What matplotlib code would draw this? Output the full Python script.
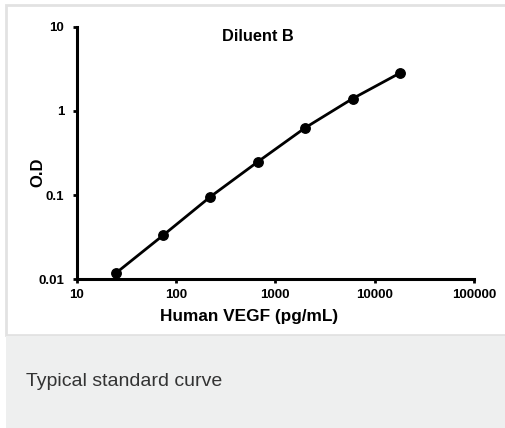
import matplotlib.pyplot as plt
import matplotlib.patches as patches
from matplotlib.ticker import FixedLocator, FixedFormatter, NullLocator

# data
conc = [24.7, 74.1, 222, 667, 2000, 6000, 18000]
od = [0.0118, 0.0333, 0.0957, 0.249, 0.631, 1.40, 2.82]
xticks = [10, 100, 1000, 10000, 100000]
xlabels = ['10', '100', '1000', '10000', '100000']
yticks = [0.01, 0.1, 1, 10]
ylabels = ['0.01', '0.1', '1', '10']

plt.rcParams['font.family'] = ['Liberation Sans', 'DejaVu Sans']

W, H = 506, 428
fig = plt.figure(figsize=(W / 100, H / 100), dpi=100)
fig.patch.set_facecolor('white')

# white panel with light border, grey caption band
panel = patches.Rectangle((6 / W, 1 - 335 / H), 1.2, (335 - 5) / H,
                          transform=fig.transFigure, facecolor='white',
                          edgecolor='#e2e2e2', linewidth=2, zorder=-5)
band = patches.Rectangle((6 / W, 0), 1.2, 1 - 336 / H,
                         transform=fig.transFigure, facecolor='#eeefef',
                         edgecolor='none', zorder=-5)
fig.patches.extend([panel, band])
fig.text(26 / W, 1 - 382 / H, 'Typical standard curve', fontsize=14,
         color='#333333', ha='left', va='center')

ax = fig.add_axes([76.7 / W, 1 - 279.3 / H, (474 - 76.7) / W, (279.3 - 26.7) / H])
ax.set_facecolor('none')
ax.set_xscale('log')
ax.set_yscale('log')
ax.set_xlim(10, 100000)
ax.set_ylim(0.01, 10)

ax.plot(conc, od, color='black', linewidth=2, marker='o', markersize=6.8,
        clip_on=False, zorder=3)

ax.xaxis.set_major_locator(FixedLocator(xticks))
ax.xaxis.set_major_formatter(FixedFormatter(xlabels))
ax.yaxis.set_major_locator(FixedLocator(yticks))
ax.yaxis.set_major_formatter(FixedFormatter(ylabels))
ax.xaxis.set_minor_locator(NullLocator())
ax.yaxis.set_minor_locator(NullLocator())

for s in ['top', 'right']:
    ax.spines[s].set_visible(False)
for s in ['left', 'bottom']:
    ax.spines[s].set_linewidth(2.2)

ax.tick_params(axis='both', which='major', direction='out', length=3, width=2,
               labelsize=9.5)
ax.tick_params(axis='y', pad=6)
ax.tick_params(axis='x', pad=4)
for lab in ax.get_xticklabels() + ax.get_yticklabels():
    lab.set_fontweight('bold')

ax.set_xlabel('Human VEGF (pg/mL)', fontsize=12.4, fontweight='bold')
ax.xaxis.set_label_coords(0.434, -0.118)
ax.set_ylabel('O.D', fontsize=12, fontweight='bold')
ax.yaxis.set_label_coords(-0.079, 0.425)
ax.text(0.456, 0.963, 'Diluent B', transform=ax.transAxes, ha='center',
        va='center', fontsize=11.8, fontweight='bold')

plt.savefig('out.png', dpi=100)
